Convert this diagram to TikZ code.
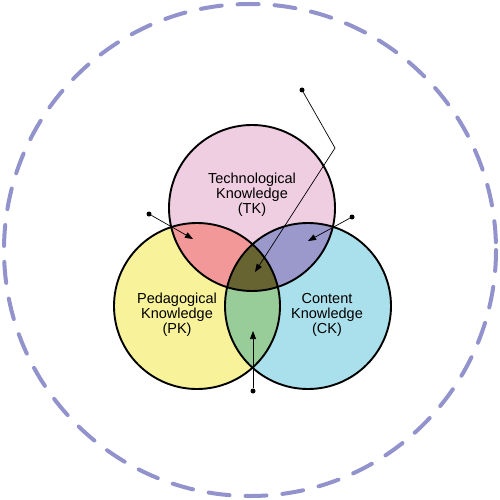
\documentclass[tikz,border=0pt]{standalone}
\usepackage{fontspec}
\setsansfont{Liberation Sans}
\usetikzlibrary{arrows.meta}

\definecolor{tkpink}{HTML}{F0CEE2}
\definecolor{pkyellow}{HTML}{F8F39A}
\definecolor{ckcyan}{HTML}{AAE0EC}
\definecolor{tpkred}{HTML}{F29898}
\definecolor{tckblue}{HTML}{9B98CC}
\definecolor{pckgreen}{HTML}{98CC98}
\definecolor{tpckolive}{HTML}{686432}
\definecolor{ringlav}{HTML}{9292CC}

\tikzstyle{ring}=[circle,minimum size = 166pt,inner sep = 0pt]
\tikzstyle{rim}=[draw=black,line width=1.9pt]
\tikzstyle{lbl}=[font=\sffamily\fontsize{14.5}{15}\selectfont,align=center,text=black]
\tikzstyle{pin}=[circle,fill=black,inner sep=0pt,minimum size=5pt]
\tikzstyle{ptr}=[-{Triangle[length=8pt,width=6pt]},line width=0.7pt]

\begin{document}
\begin{tikzpicture}[x=1pt,y=-1pt]
        \useasboundingbox (0,0) rectangle (500,500);
        \draw[ringlav,line width=4pt,line cap=round,dash pattern=on 21pt off 16pt] (250,250) circle (246);
        %
        \draw (252,208) node[ring,fill=tkpink](tk){};
        \draw (197,306) node[ring,fill=pkyellow](pk){};
        \draw (308,306) node[ring,fill=ckcyan](ck){};
        %
        \begin{scope}
            \clip (tk.center) circle (83);
            \fill[tpkred] (pk.center) circle (83);
            \fill[tckblue] (ck.center) circle (83);
        \end{scope}
        \begin{scope}
            \clip (pk.center) circle (83);
            \fill[pckgreen] (ck.center) circle (83);
            \clip (tk.center) circle (83);
            \fill[tpckolive] (ck.center) circle (83);
        \end{scope}
        \foreach \c in {tk,pk,ck}
            \draw[rim] (\c.center) circle (83);
        %
        \draw (252,195) node[lbl](tktext){Technological\\Knowledge\\(TK)};
        \draw (177,315) node[lbl](pktext){Pedagogical\\Knowledge\\(PK)};
        \draw (327,315) node[lbl](cktext){Content\\Knowledge\\(CK)};
        %
        \draw (302,90) node[pin](ptpck){};
        \draw (149,214) node[pin](ptpk){};
        \draw (352,217) node[pin](ptck){};
        \draw (253,391) node[pin](ppck){};
        \coordinate (bend) at (335,148);
        \coordinate (tpck) at (255,272);
        \coordinate (tpk) at (193,239);
        \coordinate (tck) at (308,241);
        \coordinate (pck) at (253,331);
        %
        \draw[ptr] (ptpck) -- (bend) -- (tpck);
        \draw[ptr] (ptpk) -- (tpk);
        \draw[ptr] (ptck) -- (tck);
        \draw[ptr] (ppck) -- (pck);
\end{tikzpicture}
\end{document}
